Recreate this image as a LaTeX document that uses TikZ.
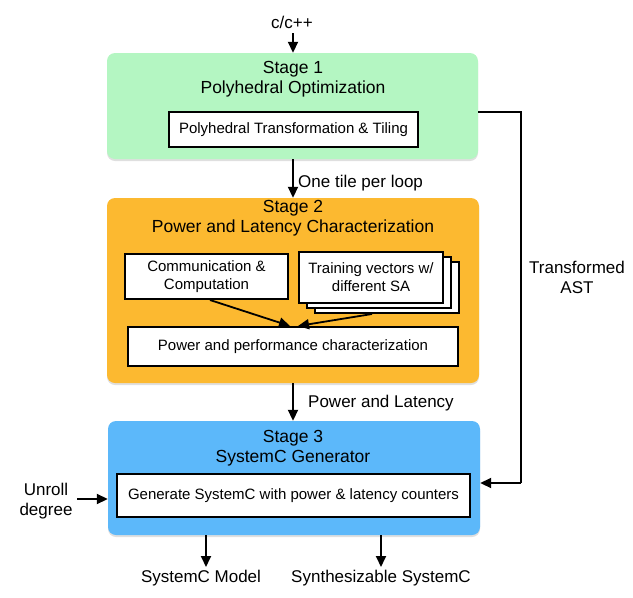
\documentclass[tikz,border=0pt]{standalone}
\usepackage{fontspec}
\setmainfont{Liberation Sans}
\usetikzlibrary{arrows.meta,shadows}
\definecolor{sgreen}{RGB}{180,246,194}
\definecolor{sorange}{RGB}{252,185,48}
\definecolor{sblue}{RGB}{92,184,250}
\tikzset{
  stagebox/.style={rounded corners=8pt, draw=none, inner sep=0pt,
    drop shadow={shadow xshift=0pt, shadow yshift=-2pt, opacity=0.25}},
  innerbox/.style={draw=black, line width=2pt, fill=white, inner sep=0pt, align=center,
    font=\fontsize{15}{18}\selectfont},
  title/.style={align=center, font=\fontsize{17.5}{20}\selectfont},
  lbl/.style={align=center, font=\fontsize{17}{20}\selectfont, inner sep=0pt},
  arr/.style={line width=1.8pt, -{Triangle[length=11pt,width=10pt]}},
  conn/.style={line width=1.8pt}
}
\begin{document}
\begin{tikzpicture}[x=1pt,y=-1pt]
\useasboundingbox (0,0) rectangle (633,598);
% stages
\node[stagebox, fill=sgreen, minimum width=371pt, minimum height=106pt] (s1) at (292.5,106) {};
\node[stagebox, fill=sorange, minimum width=372pt, minimum height=185pt] (s2) at (293,290.5) {};
\node[stagebox, fill=sblue, minimum width=372pt, minimum height=114pt] (s3) at (294,478) {};
% titles
\node[title] (t1) at (293,79.5) {Stage 1\\Polyhedral Optimization};
\node[title] (t2) at (293,218.5) {Stage 2\\Power and Latency Characterization};
\node[title] (t3) at (293,448.5) {Stage 3\\SystemC Generator};
% inner boxes
\node[innerbox, minimum width=249pt, minimum height=35pt] (p1) at (293.5,129.5) {Polyhedral Transformation \& Tiling};
\node[innerbox, minimum width=163pt, minimum height=45pt] (comm) at (206.5,276.5) {Communication \&\\Computation};
\node[innerbox, minimum width=144pt, minimum height=51pt] (tr3) at (387,287.5) {};
\node[innerbox, minimum width=144pt, minimum height=51pt] (tr2) at (379,282.5) {};
\node[innerbox, minimum width=144pt, minimum height=51pt] (tr) at (371,277.5) {Training vectors w/\\different SA};
\node[innerbox, minimum width=330pt, minimum height=39pt] (perf) at (293,346.5) {Power and performance characterization};
\node[innerbox, minimum width=353pt, minimum height=43pt] (gen) at (293.5,495.5) {Generate SystemC with power \& latency counters};
% labels
\node[lbl] (cin) at (292,22) {c/c++};
\node[lbl, anchor=west] (l1) at (298,183) {One tile per loop};
\node[lbl, anchor=west] (l2) at (308,403) {Power and Latency};
\node[lbl] (ast) at (577,277) {Transformed\\AST};
\node[lbl] (unroll) at (46,501) {Unroll\\degree};
\node[lbl] (o1) at (201,578) {SystemC Model};
\node[lbl] (o2) at (381,578) {Synthesizable SystemC};
% coordinates
\coordinate (c0) at (293,33);
\coordinate (a1) at (521,112);
\coordinate (a2) at (521,483);
\coordinate (u0) at (77,499);
\coordinate (d1) at (206,567);
\coordinate (d2) at (381,567);
% connectors
\draw[arr] (c0) -- (s1.north -| c0);
\draw[arr] (s1.south -| c0) -- (s2.north -| c0);
\draw[arr] (s2.south -| c0) -- (s3.north -| c0);
\draw[arr] (comm.south -| 210,0) -- (290,326);
\draw[arr] (tr3.south -| 372,0) -- (298,326);
\draw[conn] (s1.east |- a1) -- (a1) -- (a2);
\draw[arr] (a2) -- (s3.east |- a2);
\draw[arr] (u0) -- (s3.west |- u0);
\draw[arr] (s3.south -| d1) -- (d1);
\draw[arr] (s3.south -| d2) -- (d2);
\end{tikzpicture}
\end{document}
